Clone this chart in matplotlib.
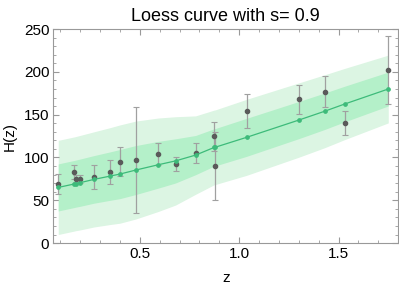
import numpy as np
import matplotlib.pyplot as plt
from matplotlib.ticker import MultipleLocator

# H(z) measurements
z = [0.09, 0.17, 0.179, 0.199, 0.27, 0.352, 0.4, 0.48, 0.593, 0.68,
     0.781, 0.875, 0.88, 1.037, 1.3, 1.43, 1.53, 1.75]
hz = [69, 83, 75, 75, 77, 83, 95, 97, 104, 92,
      105, 125, 90, 154, 168, 177, 140, 202]
hz_err = [12, 8, 4, 5, 14, 14, 17, 62, 13, 8,
          12, 17, 40, 20, 17, 18, 14, 40]

# loess fit and its 1-sigma half width
loess = [65, 69, 69.5, 70.5, 74.4, 78.3, 80.6, 85.3, 91.5, 96,
         102.8, 111.8, 112, 123.5, 143.7, 154, 162.4, 180]
sigma = [27.5, 27.5, 27.5, 27.6, 27.8, 28.3, 28.7, 28.6, 27.3, 25.8,
         22.9, 21.8, 21.8, 22.2, 21.7, 21.3, 20.8, 19.8]

plt.rcParams['font.family'] = ['Liberation Sans', 'DejaVu Sans']

zz = np.array(z)
mu = np.array(loess)
sg = np.array(sigma)

fig = plt.figure(figsize=(3.99, 2.88), dpi=100)
ax = fig.add_axes([0.134, 0.156, 0.864, 0.743])

ax.fill_between(zz, mu - 2 * sg, mu + 2 * sg, color='#dcf5e3', lw=0, zorder=1)
ax.fill_between(zz, mu - sg, mu + sg, color='#b4f0c9', lw=0, zorder=2)

ax.errorbar(z, hz, yerr=hz_err, fmt='o', color='#5a5a5a', ms=3,
            ecolor='#a0a0a0', elinewidth=0.9, capsize=2.2, capthick=0.8, zorder=3)
ax.plot(z, loess, '-o', color='#3dbb7a', lw=0.9, ms=2.4, zorder=4)

ax.set_xlim(0.066, 1.80)
ax.set_ylim(0, 250)
ax.xaxis.set_major_locator(MultipleLocator(0.5))
ax.xaxis.set_minor_locator(MultipleLocator(0.1))
ax.yaxis.set_major_locator(MultipleLocator(50))
ax.yaxis.set_minor_locator(MultipleLocator(10))
ax.tick_params(which='both', direction='in', top=True, right=True,
               color='#999999', labelsize=11, pad=3)
ax.tick_params(which='major', length=4, width=0.8)
ax.tick_params(which='minor', length=2, width=0.6)
for s in ax.spines.values():
    s.set_color('#999999')
    s.set_linewidth(0.8)

ax.set_xlabel('z', fontsize=11, labelpad=7)
ax.set_ylabel('H(z)', fontsize=11, labelpad=5)
ax.set_title('Loess curve with s= 0.9', fontsize=13, pad=6)

plt.savefig('out.png', dpi=100)
